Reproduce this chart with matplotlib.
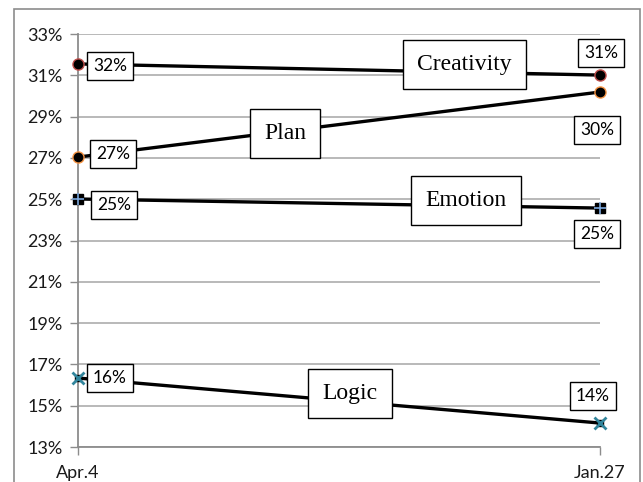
import matplotlib
matplotlib.use("Agg")
import matplotlib.pyplot as plt
from matplotlib.patches import Rectangle

categories = ["Apr.4", "Jan.27"]
series_names = ["Creativity", "Plan", "Emotion", "Logic"]
creativity = [31.55, 31.01]
plan = [27.04, 30.19]
emotion = [25.01, 24.57]
logic = [16.34, 14.16]
y_ticks = [13, 15, 17, 19, 21, 23, 25, 27, 29, 31, 33]

W, H = 643, 482
fig = plt.figure(figsize=(W / 100, H / 100), dpi=100)
fig.patch.set_facecolor("white")
# outer chart-area border
fig.patches.append(Rectangle((14 / W, -0.05), (640 - 14) / W, 1.05 - 9 / H,
                             transform=fig.transFigure, fill=False,
                             edgecolor="#8c8c8c", linewidth=1.2))

ax = fig.add_axes([78 / W, 1 - 447 / H, (600 - 78) / W, (447 - 34) / H])
ax.set_xlim(0, 1)
ax.set_ylim(13, 33)

num_font = ["Lato", "DejaVu Sans"]
name_font = ["Liberation Serif", "DejaVu Serif"]

ax.set_yticks(y_ticks)
ax.set_yticklabels([f"{v}%" for v in y_ticks], family=num_font, fontsize=13)
ax.set_xticks([0, 1])
ax.set_xticklabels(categories, family=num_font, fontsize=13)
ax.tick_params(axis="y", length=6, color="#8c8c8c", width=1, pad=5, colors="#8c8c8c", labelcolor="#1a1a1a")
ax.tick_params(axis="x", length=6, color="#8c8c8c", width=1, pad=7, labelcolor="#1a1a1a")
ax.yaxis.grid(True, color="#a6a6a6", linewidth=1.1)
ax.set_axisbelow(True)
for s in ["top", "right"]:
    ax.spines[s].set_visible(False)
ax.spines["left"].set_color("#8c8c8c")
ax.spines["left"].set_linewidth(1.3)
ax.spines["bottom"].set_color("#8c8c8c")
ax.spines["bottom"].set_linewidth(1.3)

xs = [0, 1]
lw = 2.4
ax.plot(xs, creativity, color="black", lw=lw, marker="o", ms=8,
        mfc="black", mec="#c0504d", mew=1, zorder=3, clip_on=False)
ax.plot(xs, plan, color="black", lw=lw, marker="o", ms=8,
        mfc="black", mec="#f79646", mew=1, zorder=3, clip_on=False)
ax.plot(xs, emotion, color="black", lw=lw, marker="s", ms=7,
        mfc="black", mec="black", zorder=3, clip_on=False)
ax.plot(xs, emotion, ls="none", marker="+", ms=8, mec="#7ba7dc", mew=1.2, zorder=4, clip_on=False)
ax.plot(xs, logic, color="black", lw=lw, marker="s", ms=5,
        mfc="black", mec="black", zorder=3, clip_on=False)
ax.plot(xs, logic, ls="none", marker="x", ms=8, mec="#31859c", mew=2, zorder=4, clip_on=False)

box = dict(boxstyle="square,pad=0.33", fc="white", ec="black", lw=1)
label_offsets = {
    "Creativity": [(32, -2), (1, 22)],
    "Plan": [(35, 3), (-3, -38)],
    "Emotion": [(36, -6), (-3, -26)],
    "Logic": [(32, 0), (-7, 27)],
}
all_series = {"Creativity": creativity, "Plan": plan, "Emotion": emotion, "Logic": logic}
for name in series_names:
    vals = all_series[name]
    for i, v in enumerate(vals):
        ax.annotate(f"{round(v):d}%", (xs[i], v), xytext=label_offsets[name][i],
                    textcoords="offset pixels", ha="center", va="center",
                    family=num_font, fontsize=12.5, bbox=box, zorder=5,
                    annotation_clip=False)

name_box = dict(boxstyle="square,pad=0.6", fc="white", ec="black", lw=1)
name_pos = {"Creativity": (0.741, 0.926), "Plan": (0.397, 0.759),
            "Emotion": (0.743, 0.597), "Logic": (0.521, 0.1295)}
for name in series_names:
    px, py = name_pos[name]
    ax.text(px, py, name, transform=ax.transAxes, ha="center", va="center",
            family=name_font, fontsize=17, bbox=name_box, zorder=5)

fig.savefig("out.png", dpi=100)
